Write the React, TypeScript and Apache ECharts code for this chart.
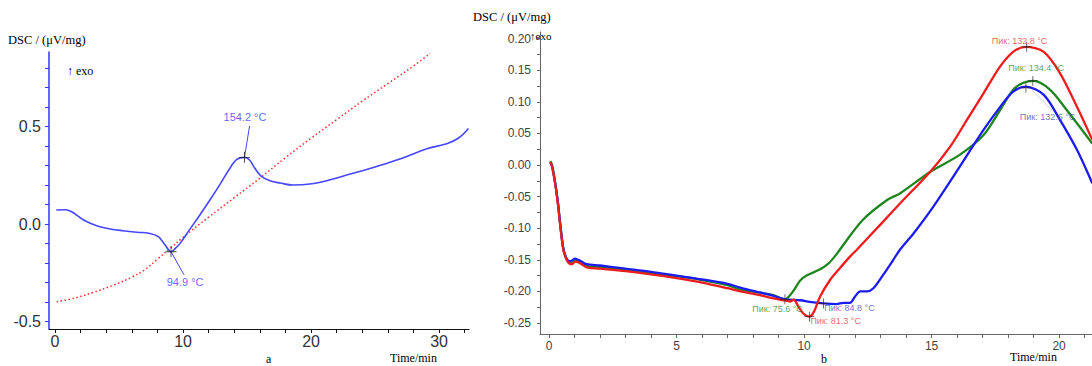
import React, { useEffect, useRef } from "react";
import * as echarts from "echarts";

// ---------- Panel a (left) ----------
const aBlueT = [0.1, 0.8, 1.3, 2.2, 2.9, 3.5, 4.3, 5.3, 6.4, 7.4, 8.07, 8.6, 8.85, 9.06, 9.4, 9.77, 10.5, 11.3, 12.1, 12.9, 13.7, 14.2, 14.8, 15.2, 15.6, 16.1, 16.8, 17.6, 18.6, 19.9, 21.5, 23.0, 25.0, 27.0, 29.0, 30.6, 31.5, 32.3];
const aBlueV = [0.072, 0.073, 0.063, 0.022, 0.0, -0.014, -0.025, -0.034, -0.042, -0.048, -0.065, -0.108, -0.13, -0.142, -0.125, -0.099, -0.03, 0.045, 0.123, 0.205, 0.29, 0.332, 0.342, 0.328, 0.287, 0.246, 0.222, 0.21, 0.2, 0.205, 0.227, 0.255, 0.293, 0.335, 0.385, 0.412, 0.44, 0.49];
const aBaseT = [0.13, 1.5, 3.0, 4.5, 6.0, 7.0, 8.0, 9.0, 10.0, 12.0, 14.0, 16.0, 18.0, 20.0, 22.0, 24.0, 26.0, 28.0, 29.3];
const aBaseV = [-0.398, -0.38, -0.35, -0.315, -0.272, -0.235, -0.18, -0.125, -0.068, 0.035, 0.135, 0.235, 0.34, 0.44, 0.535, 0.63, 0.72, 0.81, 0.875];
const aPeakT = [14.8, 9.06];
const aPeakV = [0.342, -0.142];
const aLabelT = [14.84, 10.16];
const aLabelV = [0.55, -0.297];
const aLeaderEndV = [0.503, -0.26];
const aLeaderEndT = [15.2, 10.08];
const aLabels = ["154.2 °C", "94.9 °C"];
const aXTicks = [0, 10, 20, 30];
const aYTicks = [-0.5, 0, 0.5];

// ---------- Panel b (right) ----------
const bGreenT = [0.05, 0.12, 0.24, 0.35, 0.43, 0.56, 0.69, 0.8, 0.9, 1.02, 1.2, 1.48, 2, 3, 4, 5, 6, 7, 7.49, 8.3, 8.8, 9.25, 9.45, 9.65, 9.84, 10.1, 10.63, 10.95, 11.2, 11.4, 12.3, 13.27, 13.76, 14.94, 16.1, 17.03, 17.69, 18.2, 18.6, 19.0, 19.65, 20.3, 21.3];
const bGreenV = [0.006, 0.0, -0.028, -0.06, -0.09, -0.132, -0.149, -0.155, -0.155, -0.151, -0.154, -0.16, -0.161, -0.166, -0.171, -0.176, -0.182, -0.19, -0.197, -0.202, -0.206, -0.2125, -0.206, -0.195, -0.183, -0.175, -0.165, -0.156, -0.145, -0.134, -0.087, -0.055, -0.045, -0.011, 0.016, 0.047, 0.087, 0.119, 0.13, 0.133, 0.119, 0.087, 0.034];
const bBlueT = [0.05, 0.12, 0.24, 0.35, 0.43, 0.56, 0.69, 0.8, 0.9, 1.02, 1.2, 1.48, 2, 3, 4, 5, 6, 7, 7.5, 8.3, 8.8, 9.25, 9.84, 10.3, 10.76, 11.28, 11.54, 11.8, 12.0, 12.2, 12.46, 12.72, 13.1, 13.5, 13.76, 14.3, 15.07, 16.1, 17.03, 17.69, 18.2, 18.7, 19.4, 20.04, 20.7, 21.3];
const bBlueV = [0.004, -0.002, -0.028, -0.06, -0.09, -0.132, -0.148, -0.152, -0.151, -0.148, -0.151, -0.157, -0.159, -0.164, -0.169, -0.175, -0.181, -0.188, -0.194, -0.202, -0.207, -0.2125, -0.214, -0.217, -0.219, -0.22, -0.218, -0.218, -0.208, -0.2, -0.2, -0.195, -0.174, -0.15, -0.134, -0.108, -0.066, -0.003, 0.055, 0.092, 0.116, 0.124, 0.111, 0.071, 0.024, -0.029];
const bRedT = [0.05, 0.12, 0.24, 0.35, 0.43, 0.56, 0.69, 0.8, 0.9, 1.02, 1.2, 1.48, 2, 3, 4, 5, 6, 7, 7.5, 8.27, 8.8, 9.2, 9.45, 9.6, 9.67, 9.78, 9.97, 10.21, 10.39, 10.63, 11.02, 11.41, 11.8, 12.07, 13.0, 13.76, 14.94, 15.73, 16.38, 17.03, 17.69, 18.2, 18.7, 19.4, 20.04, 20.7, 21.3];
const bRedV = [0.005, -0.003, -0.029, -0.062, -0.092, -0.134, -0.15, -0.156, -0.157, -0.153, -0.155, -0.162, -0.164, -0.168, -0.173, -0.179, -0.186, -0.195, -0.2, -0.206, -0.211, -0.214, -0.216, -0.213, -0.216, -0.224, -0.235, -0.24, -0.232, -0.208, -0.182, -0.163, -0.145, -0.134, -0.094, -0.061, -0.011, 0.029, 0.071, 0.113, 0.156, 0.179, 0.187, 0.179, 0.145, 0.092, 0.04];
const bPeakT = [18.73, 18.97, 18.7, 9.25, 10.21, 10.76];
const bPeakV = [0.187, 0.133, 0.122, -0.2125, -0.24, -0.219];
const bLabels = ["Пик: 132.8 °C", "Пик: 134.4 °C", "Пик: 132.6 °C", "Пик: 75.6 °C", "Пик: 81.3 °C", "Пик: 84.8 °C"];
const bLabelT = [18.45, 19.1, 19.55, 8.96, 11.24, 11.78];
const bLabelV = [0.196, 0.154, 0.076, -0.228, -0.247, -0.226];
const bLabelColors = ["#e04040", "#2e8e2e", "#4a4ab8", "#2e8e2e", "#e04040", "#4a4ab8"];
const bXTicks = [0, 5, 10, 15, 20];
const bYTicks = [-0.25, -0.2, -0.15, -0.1, -0.05, 0, 0.05, 0.1, 0.15, 0.2];

const zip = (t: number[], v: number[]) => t.map((x, i) => [x, v[i]]);
const range = (a: number, b: number, s: number) => {
  const out: number[] = [];
  for (let i = 0; a + i * s <= b + 1e-9; i++) out.push(+(a + i * s).toFixed(4));
  return out;
};

const SANS = "'Liberation Sans', Arial, sans-serif";
const SERIF = "'Liberation Serif', 'Times New Roman', serif";
const CROSS = "path://M0,4.6H10V5.4H0Z M4.6,0H5.4V10H4.6Z";

export default function App() {
  const ref = useRef<HTMLDivElement>(null);
  useEffect(() => {
    if (!ref.current) return;
    const chart = echarts.init(ref.current, undefined, { renderer: "svg" });
    const txt = (x: number, y: number, text: string, size = 12.5) => ({
      type: "text",
      x,
      y,
      style: { text, fontFamily: SERIF, fontSize: size, fill: "#000", textVerticalAlign: "middle" },
    });
    chart.setOption({
      animation: false,
      backgroundColor: "#fff",
      grid: [
        { left: 49, top: 52, width: 420, height: 277 },
        { left: 540, top: 32, width: 552, height: 302 },
      ],
      xAxis: [
        {
          gridIndex: 0, type: "value", min: -0.47, max: 32.34,
          axisLine: { onZero: false, lineStyle: { color: "#111", width: 1 } },
          axisTick: { customValues: range(0, 32, 2), length: 4, lineStyle: { color: "#111" } },
          axisLabel: { customValues: aXTicks, fontSize: 16, color: "#333", margin: 4, fontFamily: SANS },
          splitLine: { show: false },
        },
        {
          gridIndex: 1, type: "value", min: -0.353, max: 21.29,
          axisLine: { onZero: false, lineStyle: { color: "#666", width: 1 } },
          axisTick: { customValues: range(0, 21, 1), length: 4, lineStyle: { color: "#666" } },
          axisLabel: { customValues: bXTicks, fontSize: 12, color: "#444", margin: 6, fontFamily: SANS },
          splitLine: { show: false },
        },
      ],
      yAxis: [
        {
          gridIndex: 0, type: "value", min: -0.538, max: 0.882,
          axisLine: { show: true, onZero: false, lineStyle: { color: "#3535ff", width: 1.5 } },
          axisTick: { show: true, customValues: range(-0.5, 0.8, 0.1), length: 4, lineStyle: { color: "#3535ff" } },
          axisLabel: { customValues: aYTicks, fontSize: 16, color: "#333", margin: 8, fontFamily: SANS, formatter: (v: number) => v.toFixed(1) },
          splitLine: { show: false },
        },
        {
          gridIndex: 1, type: "value", min: -0.2674, max: 0.2104,
          axisLine: { show: true, onZero: false, lineStyle: { color: "#666", width: 1 } },
          axisTick: { show: true, customValues: range(-0.25, 0.2, 0.025), length: 3, lineStyle: { color: "#666" } },
          axisLabel: { customValues: bYTicks, fontSize: 12, color: "#444", margin: 9, fontFamily: SANS, formatter: (v: number) => v.toFixed(2) },
          splitLine: { show: false },
        },
      ],
      series: [
        {
          type: "line", xAxisIndex: 0, yAxisIndex: 0, data: zip(aBaseT, aBaseV), smooth: 0.4,
          symbol: "none", lineStyle: { color: "#ff2a2a", width: 1.5, type: [1.5, 2.5] },
        },
        {
          type: "line", xAxisIndex: 0, yAxisIndex: 0, data: zip(aBlueT, aBlueV), smooth: 0.4,
          symbol: "none", lineStyle: { color: "#4646ff", width: 1.6 },
        },
        ...aPeakT.map((t, i) => ({
          type: "line", xAxisIndex: 0, yAxisIndex: 0, symbol: "none",
          data: [[t, aPeakV[i]], [aLeaderEndT[i], aLeaderEndV[i]]],
          lineStyle: { color: "#4646ff", width: 1 },
        })),
        {
          type: "scatter", xAxisIndex: 0, yAxisIndex: 0, symbol: CROSS, symbolSize: 11,
          itemStyle: { color: "#111" }, data: zip(aPeakT, aPeakV), z: 5,
        },
        {
          type: "scatter", xAxisIndex: 0, yAxisIndex: 0, symbolSize: 1, itemStyle: { color: "rgba(0,0,0,0)" },
          data: aLabelT.map((t, i) => ({ value: [t, aLabelV[i]], name: aLabels[i] })),
          label: { show: true, position: "inside", formatter: "{b}", color: "#3c3cff", fontSize: 11, fontFamily: SANS },
        },
        {
          type: "line", xAxisIndex: 1, yAxisIndex: 1, data: zip(bGreenT, bGreenV), smooth: 0.3,
          symbol: "none", lineStyle: { color: "#1f861f", width: 2.3 },
        },
        {
          type: "line", xAxisIndex: 1, yAxisIndex: 1, data: zip(bBlueT, bBlueV), smooth: 0.3,
          symbol: "none", lineStyle: { color: "#1c1cf0", width: 2.3 },
        },
        {
          type: "line", xAxisIndex: 1, yAxisIndex: 1, data: zip(bRedT, bRedV), smooth: 0.3,
          symbol: "none", lineStyle: { color: "#ee1c1c", width: 2.3 },
        },
        {
          type: "line", xAxisIndex: 1, yAxisIndex: 1, symbol: "none",
          data: [[bPeakT[2] + 0.25, bPeakV[2] - 0.004], [bLabelT[2] + 0.2, bLabelV[2] + 0.009]],
          lineStyle: { color: "#cfcfcf", width: 1 },
        },
        {
          type: "scatter", xAxisIndex: 1, yAxisIndex: 1, symbol: CROSS, symbolSize: 10,
          itemStyle: { color: "#222" }, data: zip(bPeakT, bPeakV), z: 5,
        },
        {
          type: "scatter", xAxisIndex: 1, yAxisIndex: 1, symbolSize: 1, itemStyle: { color: "rgba(0,0,0,0)" },
          data: bLabelT.map((t, i) => ({
            value: [t, bLabelV[i]], name: bLabels[i],
            label: { color: bLabelColors[i] },
          })),
          label: { show: true, position: "inside", formatter: "{b}", fontSize: 9, fontFamily: SANS },
          z: 6,
        },
      ],
      graphic: [
        txt(8, 40, "DSC / (μV/mg)"),
        txt(67, 71, "↑ exo", 12),
        txt(266, 359, "a", 12),
        txt(390, 358, "Time/min", 12),
        txt(473, 17, "DSC / (μV/mg)"),
        txt(530, 36, "↑exo", 11),
        txt(821, 359, "b", 12),
        txt(1010, 357, "Time/min", 12),
      ],
    });
    return () => chart.dispose();
  }, []);
  return <div ref={ref} style={{ position: "absolute", left: 0, top: 0, width: 1092, height: 366 }} />;
}
